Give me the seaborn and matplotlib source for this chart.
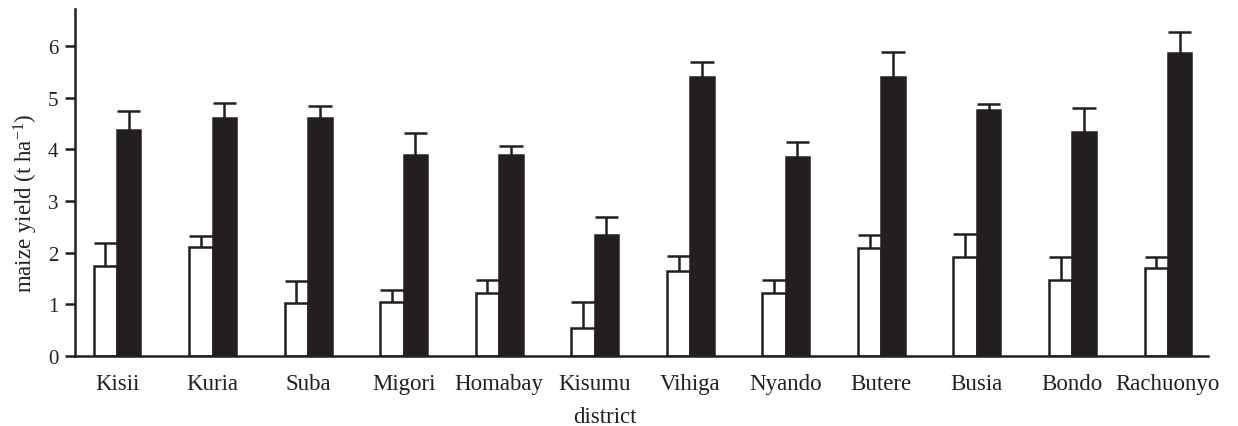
import numpy as np
import pandas as pd
import matplotlib
matplotlib.use("Agg")
import matplotlib.pyplot as plt
import seaborn as sns

districts = ["Kisii", "Kuria", "Suba", "Migori", "Homabay", "Kisumu",
             "Vihiga", "Nyando", "Butere", "Busia", "Bondo", "Rachuonyo"]
yield_control = [1.75, 2.12, 1.02, 1.05, 1.21, 0.55, 1.65, 1.21, 2.09, 1.91, 1.47, 1.70]
err_control = [0.44, 0.20, 0.44, 0.22, 0.26, 0.49, 0.29, 0.26, 0.25, 0.45, 0.45, 0.21]
yield_treated = [4.37, 4.60, 4.60, 3.89, 3.89, 2.35, 5.41, 3.86, 5.41, 4.76, 4.33, 5.86]
err_treated = [0.38, 0.29, 0.24, 0.43, 0.18, 0.34, 0.29, 0.29, 0.47, 0.12, 0.48, 0.42]
treatments = ["control", "treated"]

sns.set_theme(style="white")
plt.rcParams["font.family"] = ["Liberation Serif", "DejaVu Serif"]
plt.rcParams["mathtext.fontset"] = "custom"
plt.rcParams["mathtext.rm"] = "Liberation Serif"
plt.rcParams["mathtext.it"] = "Liberation Serif:italic"

df = pd.DataFrame({
    "district": districts * 2,
    "treatment": [treatments[0]] * len(districts) + [treatments[1]] * len(districts),
    "yield": yield_control + yield_treated,
    "err": err_control + err_treated,
})

ink = "#231f20"
lw = 1.8
fig = plt.figure(figsize=(12.38, 4.27), dpi=100)
ax = fig.add_axes([0.0606, 0.164, 0.9152, 0.8126])

sns.barplot(data=df, x="district", y="yield", hue="treatment",
            order=districts, hue_order=treatments,
            palette={"control": "white", "treated": ink},
            width=0.49, gap=0, errorbar=None, legend=False,
            edgecolor=ink, linewidth=lw, saturation=1, ax=ax)

# upper-only error bars with a cap as wide as the bar
for container, errs in zip(ax.containers, [err_control, err_treated]):
    for bar, e in zip(container.patches, errs):
        x0 = bar.get_x()
        w = bar.get_width()
        top = bar.get_height()
        ax.vlines(x0 + w / 2, top, top + e, colors=ink, linewidth=lw, zorder=1)
        ax.hlines(top + e, x0, x0 + w, colors=ink, linewidth=lw, zorder=1)

ax.set_xlim(-0.44, 11.42)
ax.set_ylim(0, 6.72)
ax.set_yticks(range(0, 7))

for side in ["top", "right"]:
    ax.spines[side].set_visible(False)
for side in ["left", "bottom"]:
    ax.spines[side].set_color(ink)
    ax.spines[side].set_linewidth(lw)

ax.tick_params(axis="y", which="both", left=True, length=7, width=lw,
               color=ink, labelsize=15, pad=5, labelcolor=ink)
ax.tick_params(axis="x", bottom=False, labelsize=16.5, pad=6, labelcolor=ink)

ax.set_ylabel("maize yield (t ha$^{-1}$)", fontsize=16.5, color=ink)
ax.yaxis.set_label_coords(-0.031, 0.444)
ax.set_xlabel("district", fontsize=16.5, color=ink)
ax.xaxis.set_label_coords(0.468, -0.145)

fig.savefig("out.png", dpi=100, facecolor="white")
